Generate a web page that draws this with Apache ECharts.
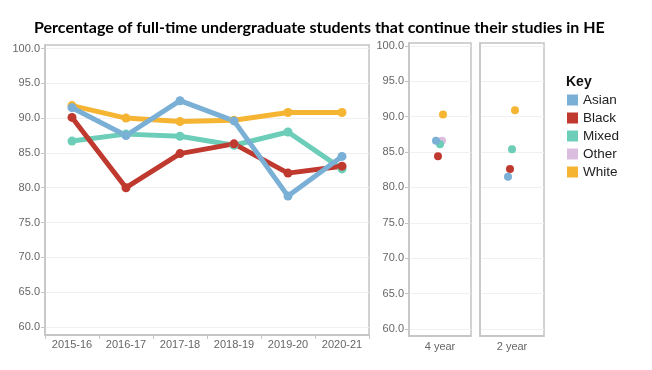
<!DOCTYPE html>
<html>
<head>
<meta charset="utf-8">
<script src="https://cdn.jsdelivr.net/npm/echarts@6/dist/echarts.min.js"></script>
<style>html,body{margin:0;padding:0;background:#fff}#c{width:652px;height:370px}</style>
</head>
<body>
<div id="c"></div>
<script>
const years = ['2015-16', '2016-17', '2017-18', '2018-19', '2019-20', '2020-21'];
const groups = ['Asian', 'Black', 'Mixed', 'Other', 'White'];
const asianLine = [91.5, 87.5, 92.5, 89.6, 78.8, 84.5];
const blackLine = [90.1, 80.0, 84.9, 86.3, 82.1, 83.1];
const mixedLine = [86.7, 87.7, 87.4, 86.1, 88.0, 82.7];
const otherLine = [null, null, null, null, null, null];
const whiteLine = [91.8, 90.0, 89.5, 89.7, 90.8, 90.8];
const degreeTypes = ['4 year', '2 year'];
const fourYear = [86.6, 84.4, 86.1, 86.6, 90.3];   // Asian, Black, Mixed, Other, White
const twoYear = [81.5, 82.6, 85.4, null, 90.9];
const yTicks = [60, 65, 70, 75, 80, 85, 90, 95, 100];

const colors = {Asian: '#7aafd6', Black: '#c0392f', Mixed: '#6ccdb8', Other: '#dbbde0', White: '#f5b533'};
const jitter = {Asian: [-4, 0], Black: [-2, 0], Mixed: [0, 0], Other: [2, 0], White: [3, 0]};
const lineData = {Asian: asianLine, Black: blackLine, Mixed: mixedLine, Other: otherLine, White: whiteLine};

const chart = echarts.init(document.getElementById('c'), null, {renderer: 'canvas'});
const border = '#c4c4c4';
const labelStyle = {color: '#666', fontSize: 11, fontFamily: 'Liberation Sans, Arial, sans-serif'};

function yAxisDef(gridIndex, min, max, showLabels) {
  return {
    type: 'value', gridIndex, min, max,
    axisLine: {show: true, lineStyle: {color: border, width: 1.5}},
    axisTick: {show: showLabels, length: 4, customValues: yTicks, lineStyle: {color: border}},
    axisLabel: Object.assign({show: showLabels, margin: 5, customValues: yTicks, formatter: v => v.toFixed(1)}, labelStyle),
    splitLine: {show: true, lineStyle: {color: '#f0f0f0', width: 1}}
  };
}

const series = [];
const drawOrder = ['White', 'Other', 'Mixed', 'Black', 'Asian'];
drawOrder.forEach(g => {
  series.push({
    name: g, type: 'line', xAxisIndex: 0, yAxisIndex: 0,
    data: lineData[g], symbol: 'circle', symbolSize: 9, showSymbol: true,
    lineStyle: {width: 5, color: colors[g]}, itemStyle: {color: colors[g]},
    emphasis: {disabled: true}, animation: false
  });
});
drawOrder.forEach(g => {
  const i = groups.indexOf(g);
  if (fourYear[i] != null) series.push({
    name: g, type: 'scatter', xAxisIndex: 1, yAxisIndex: 1,
    data: [[degreeTypes[0], fourYear[i]]], symbolSize: 8, symbolOffset: jitter[g],
    itemStyle: {color: colors[g], opacity: 1}, animation: false
  });
  if (twoYear[i] != null) series.push({
    name: g, type: 'scatter', xAxisIndex: 2, yAxisIndex: 2,
    data: [[degreeTypes[1], twoYear[i]]], symbolSize: 8, symbolOffset: jitter[g],
    itemStyle: {color: colors[g], opacity: 1}, animation: false
  });
});

chart.setOption({
  animation: false,
  title: [
    {text: 'Percentage of full-time undergraduate students that continue their studies in HE', left: 29, top: 15,
     textStyle: {fontSize: 16, fontWeight: 'bold', color: '#000', fontFamily: 'Lato, sans-serif'}},
    {text: 'Key', left: 561, top: 70, textStyle: {fontSize: 14, fontWeight: 'bold', color: '#111', fontFamily: 'Liberation Sans, Arial, sans-serif'}}
  ],
  legend: {
    data: groups, orient: 'vertical', left: 562, top: 88, itemWidth: 11, itemHeight: 11, itemGap: 4,
    icon: 'rect', selectedMode: false, padding: [5, 5, 5, 5],
    textStyle: {fontSize: 13.5, color: '#222', fontFamily: 'Liberation Sans, Arial, sans-serif'}
  },
  grid: [
    {left: 45, right: 283, top: 45, bottom: 35, show: true, borderColor: border, borderWidth: 1.5},
    {left: 409, right: 181, top: 43, bottom: 34, show: true, borderColor: border, borderWidth: 1.5},
    {left: 480, right: 108, top: 43, bottom: 34, show: true, borderColor: border, borderWidth: 1.5}
  ],
  xAxis: [
    {type: 'category', gridIndex: 0, data: years, boundaryGap: true,
     axisLine: {lineStyle: {color: border, width: 1.5}},
     axisTick: {show: true, length: 4, lineStyle: {color: border}},
     axisLabel: Object.assign({margin: 4}, labelStyle)},
    {type: 'category', gridIndex: 1, data: [degreeTypes[0]],
     axisLine: {lineStyle: {color: border, width: 1.5}}, axisTick: {show: false},
     axisLabel: Object.assign({margin: 5}, labelStyle)},
    {type: 'category', gridIndex: 2, data: [degreeTypes[1]],
     axisLine: {lineStyle: {color: border, width: 1.5}}, axisTick: {show: false},
     axisLabel: Object.assign({margin: 5}, labelStyle)}
  ],
  yAxis: [
    yAxisDef(0, 58.85, 100.5, true),
    yAxisDef(1, 59.0, 100.42, true),
    yAxisDef(2, 59.0, 100.42, false)
  ],
  series
});
</script>
</body>
</html>
